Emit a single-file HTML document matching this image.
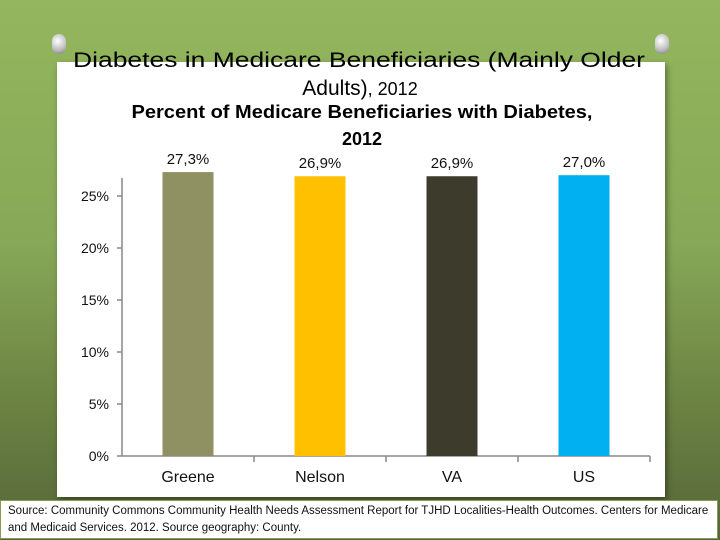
<!DOCTYPE html>
<html><head><meta charset="utf-8"><style>
html,body{margin:0;padding:0;width:720px;height:540px;overflow:hidden}
body{background:linear-gradient(180deg,#93b65e 0%,#87a857 45%,#6b8242 75%,#55663a 100%);font-family:"Liberation Sans",sans-serif;position:relative}
#panel{position:absolute;left:57px;top:62px;width:608px;height:435px;background:#fff;box-shadow:2px 3px 6px rgba(0,0,0,.4)}
.pin{position:absolute;width:14px;height:20px;border-radius:7px;background:radial-gradient(circle at 40% 35%,#fff,#bbb 60%,#777);}
#src{position:absolute;left:0;top:500px;width:718px;height:39px;background:#fff;border:1px solid #8a9a50;font-size:11.5px;line-height:17px;padding:2px 0 0 7px;box-sizing:border-box;color:#111}
svg{position:absolute;left:0;top:0}
</style></head><body>
<div id="panel"></div>
<div class="pin" style="left:52px;top:34px"></div>
<div class="pin" style="left:655px;top:34px"></div>
<svg width="720" height="540" id="chart">
<text x="359" y="67" text-anchor="middle" font-size="21" fill="#000" textLength="572" lengthAdjust="spacingAndGlyphs">Diabetes in Medicare Beneficiaries (Mainly Older</text>
<text x="360" y="95" text-anchor="middle" font-size="21" fill="#000">Adults)<tspan font-size="18">, 2012</tspan></text>
<text x="362" y="118" text-anchor="middle" font-size="18" font-weight="bold" fill="#000" textLength="461" lengthAdjust="spacingAndGlyphs">Percent of Medicare Beneficiaries with Diabetes,</text>
<text x="362" y="145" text-anchor="middle" font-size="18" font-weight="bold" fill="#000">2012</text>
<g id="g"></g>
</svg>
<div id="src">Source: Community Commons Community Health Needs Assessment Report for TJHD Localities-Health Outcomes. Centers for Medicare and Medicaid Services. 2012. Source geography: County.</div>
<script>
const categories=["Greene","Nelson","VA","US"];
const values=[27.3,26.9,26.9,27.0];
const valueLabels=["27,3%","26,9%","26,9%","27,0%"];
const ticks=[0,5,10,15,20,25];
const colors=["#8f9163","#ffc000","#3d3b2c","#00b0f0"];
const NS="http://www.w3.org/2000/svg",g=document.getElementById('g');
const x0=122,x1=650,y0=456,pxPer=10.4;
const y=v=>y0-v*pxPer, bw=(x1-x0)/categories.length;
function el(t,a){const e=document.createElementNS(NS,t);for(const k in a)e.setAttribute(k,a[k]);g.appendChild(e);return e;}
let ax=el('line',{x1:x0,y1:y0,x2:x0,y2:178,stroke:'#888','stroke-width':1.5});


let xa=el('line',{x1:x0,y1:y0,x2:x1,y2:y0,stroke:'#888','stroke-width':1.5});


ticks.forEach(t=>{
 const l=el('line',{x1:x0-5,y1:y(t),x2:x0,y2:y(t),stroke:'#888','stroke-width':1.5});
 
 
 const tx=el('text',{x:x0-13,y:y(t)+5,'text-anchor':'end','font-size':14,fill:'#111'});
 tx.textContent=t+'%';
 
 
});
categories.forEach((c,i)=>{
 const cx=x0+bw*(i+0.5);
 const tk=el('line',{x1:x0+bw*(i+1),y1:y0,x2:x0+bw*(i+1),y2:y0+6,stroke:'#888','stroke-width':1.5});
 
 
 const r=el('rect',{x:cx-25.5,y:y(values[i]),width:51,height:y0-y(values[i]),fill:colors[i]});
 
 
 const vl=el('text',{x:cx,y:y(values[i])-8,'text-anchor':'middle','font-size':15,fill:'#111'});
 vl.textContent=valueLabels[i];
 
 
 const cl=el('text',{x:cx,y:482,'text-anchor':'middle','font-size':16,fill:'#111'});
 cl.textContent=c;
 
 
});
</script>
</body></html>
